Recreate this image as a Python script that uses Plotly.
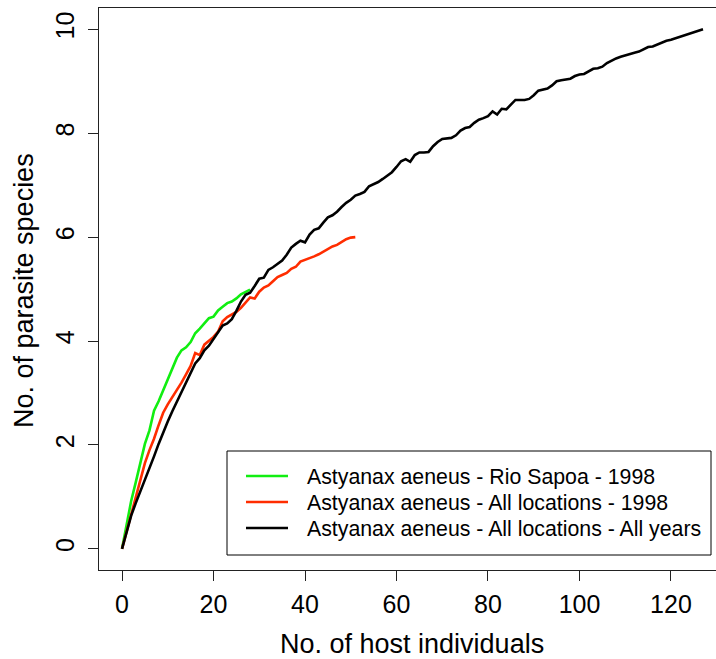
import plotly.graph_objects as go

# ---------------- data ----------------
names = [
    "Astyanax aeneus - Rio Sapoa - 1998",
    "Astyanax aeneus - All locations - 1998",
    "Astyanax aeneus - All locations - All years",
]
colors = ["#11EE11", "#FF2D00", "#000000"]

green_y = [0, 0.48, 0.92, 1.28, 1.63, 2.02, 2.28, 2.66, 2.84, 3.05,
           3.25, 3.47, 3.68, 3.82, 3.88, 3.98, 4.15, 4.24, 4.35, 4.44,
           4.47, 4.59, 4.66, 4.73, 4.76, 4.82, 4.90, 4.94, 4.99]

red_y = [0, 0.33, 0.66, 1.00, 1.30, 1.65, 1.90, 2.12, 2.38, 2.62,
         2.78, 2.92, 3.05, 3.20, 3.36, 3.52, 3.77, 3.73, 3.93, 4.01,
         4.08, 4.18, 4.38, 4.46, 4.51, 4.56, 4.64, 4.73, 4.84, 4.82,
         4.95, 5.03, 5.07, 5.15, 5.23, 5.27, 5.31, 5.39, 5.43, 5.53,
         5.56, 5.59, 5.63, 5.67, 5.72, 5.78, 5.82, 5.85, 5.90, 5.96,
         5.99, 6.00]

black_y = [0, 0.33, 0.64, 0.88, 1.10, 1.33, 1.56, 1.78, 2.02, 2.25,
           2.45, 2.65, 2.84, 3.03, 3.22, 3.38, 3.57, 3.67, 3.82, 3.91,
           4.04, 4.16, 4.30, 4.34, 4.42, 4.58, 4.76, 4.89, 4.93, 5.06,
           5.20, 5.22, 5.37, 5.42, 5.48, 5.55, 5.66, 5.80, 5.87, 5.93,
           5.90, 6.05, 6.14, 6.17, 6.28, 6.38, 6.42, 6.49, 6.58, 6.66,
           6.72, 6.80, 6.83, 6.87, 6.98, 7.02, 7.06, 7.12, 7.18, 7.25,
           7.35, 7.46, 7.50, 7.45, 7.58, 7.63, 7.63, 7.64, 7.75, 7.83,
           7.89, 7.90, 7.91, 7.96, 8.05, 8.10, 8.12, 8.20, 8.26, 8.29,
           8.33, 8.42, 8.36, 8.47, 8.46, 8.55, 8.64, 8.64, 8.64, 8.66,
           8.73, 8.82, 8.84, 8.86, 8.92, 9.00, 9.02, 9.04, 9.05, 9.10,
           9.13, 9.14, 9.19, 9.24, 9.25, 9.28, 9.35, 9.40, 9.44, 9.47,
           9.50, 9.53, 9.55, 9.57, 9.62, 9.66, 9.67, 9.71, 9.75, 9.78,
           9.80, 9.83, 9.86, 9.89, 9.91, 9.94, 9.97, 10.00]

series = [green_y, red_y, black_y]

x_ticks = [0, 20, 40, 60, 80, 100, 120]
y_ticks = [0, 2, 4, 6, 8, 10]
x_title = "No. of host individuals"
y_title = "No. of parasite species"

# ---------------- figure ----------------
W, H = 716, 659
ML, MR, MT, MB = 99, 0, 8, 89
PW, PH = W - ML - MR, H - MT - MB
FONT = "Liberation Sans, Arial, sans-serif"

fig = go.Figure()
for name, col, ys in zip(names, colors, series):
    fig.add_trace(go.Scatter(
        x=list(range(len(ys))), y=ys, mode="lines", name=name,
        line=dict(color=col, width=2.6), showlegend=False,
    ))


def px_x(p):
    return (p - ML) / PW


def px_y(p):
    return (H - MB - p) / PH


# manual R-style legend
shapes = [dict(type="rect", xref="paper", yref="paper",
               x0=px_x(227), x1=px_x(711), y0=px_y(555), y1=px_y(451),
               line=dict(color="#000000", width=1), fillcolor="white", layer="above")]
annotations = []
row_y = [477, 503, 529]
for name, col, ry in zip(names, colors, row_y):
    shapes.append(dict(type="line", xref="paper", yref="paper",
                       x0=px_x(246), x1=px_x(288), y0=px_y(ry - 1), y1=px_y(ry - 1),
                       line=dict(color=col, width=2.6), layer="above"))
    annotations.append(dict(text=name, xref="paper", yref="paper",
                            x=px_x(305), y=px_y(ry), xanchor="left", yanchor="middle",
                            showarrow=False, font=dict(size=21.3, color="#000000", family=FONT)))

# axis titles
annotations.append(dict(text=x_title, xref="paper", yref="paper",
                        x=px_x(412), y=px_y(644), xanchor="center", yanchor="middle",
                        showarrow=False, font=dict(size=27, color="#000000", family=FONT)))
annotations.append(dict(text=y_title, xref="paper", yref="paper",
                        x=px_x(24), y=px_y(291), xanchor="center", yanchor="middle",
                        textangle=-90, showarrow=False,
                        font=dict(size=27, color="#000000", family=FONT)))

fig.update_layout(
    width=W, height=H,
    margin=dict(l=ML, r=MR, t=MT, b=MB, autoexpand=False),
    paper_bgcolor="white", plot_bgcolor="white",
    font=dict(family=FONT, color="#000000"),
    shapes=shapes, annotations=annotations,
)
fig.update_xaxes(
    range=[-5.03, 129.84], tickvals=x_ticks, ticktext=[str(v) for v in x_ticks],
    showgrid=False, zeroline=False, showline=True, linecolor="#222222", linewidth=1.2,
    mirror=True, ticks="outside", ticklen=10, tickwidth=1, tickcolor="#222222",
    tickfont=dict(size=25, family=FONT, color="#000000"), automargin=False,
    ticklabelstandoff=2,
)
fig.update_yaxes(
    range=[-0.407, 10.41], tickvals=y_ticks, ticktext=[str(v) for v in y_ticks],
    showgrid=False, zeroline=False, showline=True, linecolor="#222222", linewidth=1.2,
    mirror=False, ticks="outside", ticklen=10, tickwidth=1, tickcolor="#222222",
    tickfont=dict(size=25, family=FONT, color="#000000"), tickangle=-90, automargin=False,
    ticklabelstandoff=4,
)

fig.write_html("out.html")
